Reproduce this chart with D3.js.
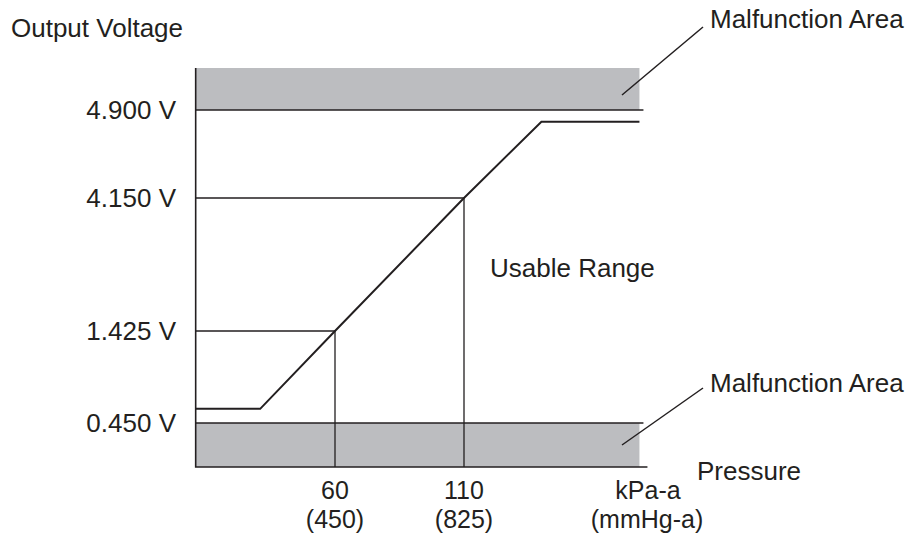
<!DOCTYPE html>
<meta charset="utf-8">
<style>
  body { margin: 0; background: #fff; }
  text { font-family: "Liberation Sans", Arial, sans-serif; fill: #231f20; font-size: 26px; }
  .xl { font-size: 25px; }
</style>
<body>
<svg id="chart" width="910" height="541"></svg>
<script src="https://cdn.jsdelivr.net/npm/d3@7"></script>
<script>
// schematic voltage ticks (not to scale on the picture)
var voltTicks = [0.45, 1.425, 4.15, 4.9];
var voltLabels = ["0.450 V", "1.425 V", "4.150 V", "4.900 V"];
// pressure ticks, kPa-a with mmHg-a below
var kpaTicks = [60, 110];
var mmhgLabels = ["(450)", "(825)"];
// sensor output curve: pressure (kPa) -> voltage
var curveKpa = [6, 31, 60, 110, 140, 178];
var curveVolt = [0.6, 0.6, 1.425, 4.15, 4.8, 4.8];
var kpaMin = 6, kpaMax = 178;
var voltMin = 0, voltMax = 5.35;

var svg = d3.select("#chart");
var ink = "#231f20", grey = "#bcbdc0";

var x = d3.scaleLinear().domain([60, 110]).range([335, 464]);
var y = d3.scaleLinear()
    .domain([voltMin, 0.45, 1.425, 4.15, 4.9, voltMax])
    .range([467, 423, 331, 198, 110, 68]);

// malfunction bands
svg.append("rect")
    .attr("x", x(kpaMin)).attr("y", y(voltMax))
    .attr("width", x(kpaMax) - x(kpaMin)).attr("height", y(4.9) - y(voltMax))
    .attr("fill", grey);
svg.append("rect")
    .attr("x", x(kpaMin)).attr("y", y(0.45))
    .attr("width", x(kpaMax) - x(kpaMin)).attr("height", y(voltMin) - y(0.45))
    .attr("fill", grey);

// limit lines
[0.45, 4.9].forEach(function(v) {
  svg.append("line")
      .attr("x1", x(kpaMin)).attr("x2", x(kpaMax) + 4)
      .attr("y1", y(v)).attr("y2", y(v))
      .attr("stroke", ink).attr("stroke-width", 1.5);
});

// guide lines from 1.425 V / 4.150 V to the pressure axis
kpaTicks.forEach(function(k, i) {
  var v = i == 0 ? 1.425 : 4.15;
  svg.append("path")
      .attr("d", "M" + x(kpaMin) + "," + y(v) + "H" + x(k) + "V" + y(voltMin))
      .attr("fill", "none").attr("stroke", ink).attr("stroke-width", 1.3);
});

// axes
svg.append("path")
    .attr("d", "M" + x(kpaMin) + "," + y(voltMax) + "V" + y(voltMin) + "H" + (x(kpaMax) + 8))
    .attr("fill", "none").attr("stroke", ink).attr("stroke-width", 1.6);

// output curve
var pts = curveKpa.map(function(k, i) { return [k, curveVolt[i]]; });
svg.append("path")
    .datum(pts)
    .attr("d", d3.line().x(function(d) { return x(d[0]); }).y(function(d) { return y(d[1]); }))
    .attr("fill", "none").attr("stroke", ink).attr("stroke-width", 2);

// y tick labels
voltTicks.forEach(function(v, i) {
  svg.append("text")
      .attr("x", 176).attr("y", y(v)).attr("dy", "0.36em")
      .attr("text-anchor", "end")
      .text(voltLabels[i]);
});

// x tick labels
kpaTicks.forEach(function(k, i) {
  svg.append("text").attr("class", "xl").attr("x", x(k)).attr("y", 499)
      .attr("text-anchor", "middle").text(k);
  svg.append("text").attr("class", "xl").attr("x", x(k)).attr("y", 528)
      .attr("text-anchor", "middle").text(mmhgLabels[i]);
});
svg.append("text").attr("class", "xl").attr("x", 648).attr("y", 499)
    .attr("text-anchor", "middle").text("kPa-a");
svg.append("text").attr("class", "xl").attr("x", 647).attr("y", 528)
    .attr("text-anchor", "middle").text("(mmHg-a)");

// titles and annotations
svg.append("text").attr("x", 11).attr("y", 37).text("Output Voltage");
svg.append("text").attr("x", 697).attr("y", 480).text("Pressure");
svg.append("text").attr("x", 490).attr("y", 277).text("Usable Range");

[[95, 27, 28], [445, 388, 392]].forEach(function(a) {
  svg.append("line")
      .attr("x1", 622).attr("y1", a[0]).attr("x2", 703).attr("y2", a[1])
      .attr("stroke", ink).attr("stroke-width", 1.5);
  svg.append("text").attr("x", 710).attr("y", a[2])
      .text("Malfunction Area");
});
</script>
</body>
